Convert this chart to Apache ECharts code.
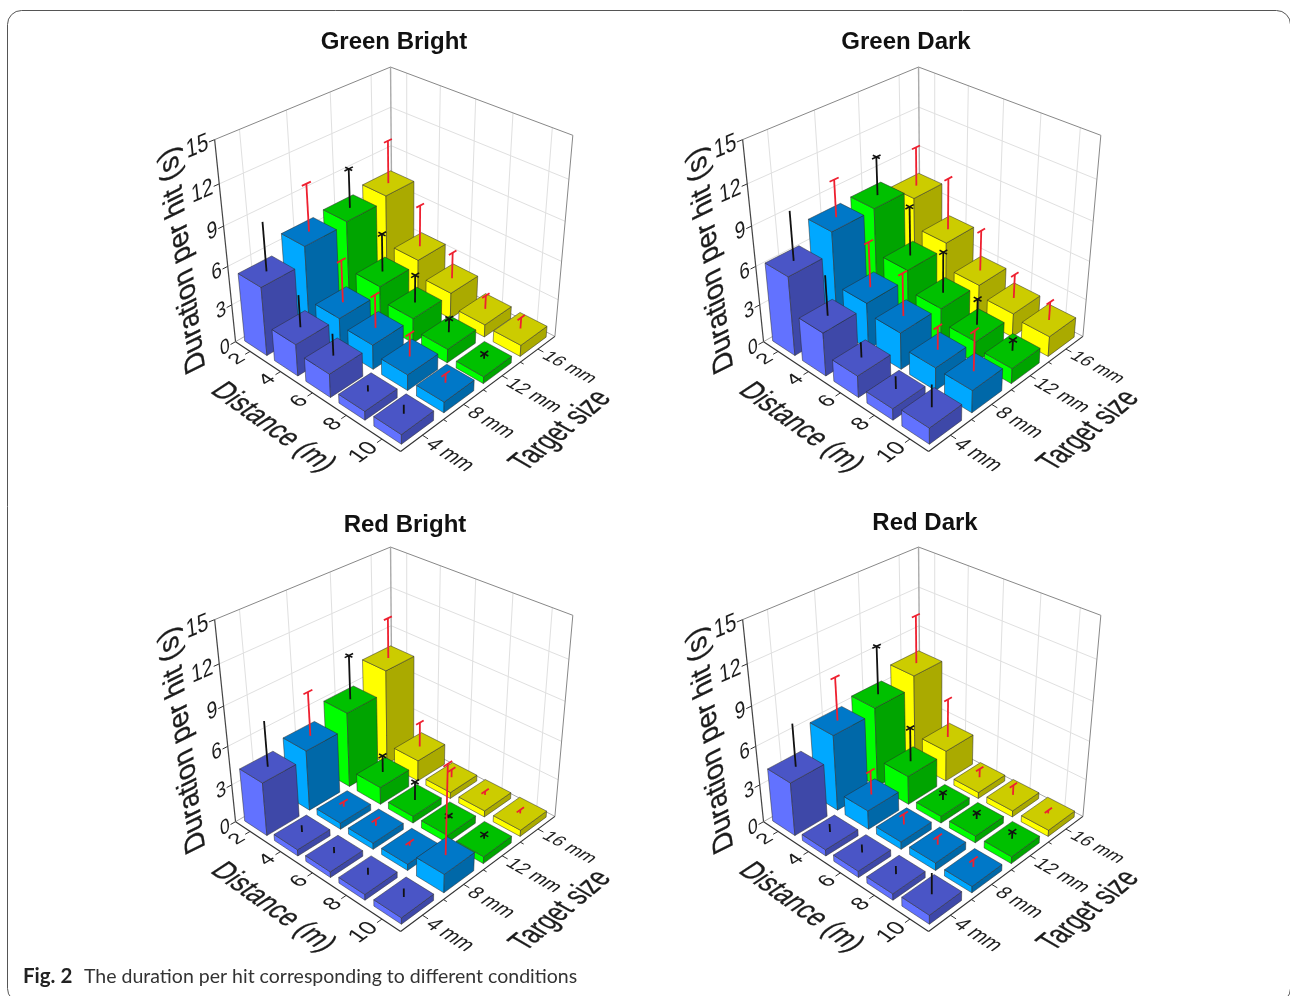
<!DOCTYPE html>
<html><head><meta charset="utf-8">
<style>html,body{margin:0;padding:0;background:#fff}#c{width:1290px;height:996px}</style>
<script src="https://cdn.jsdelivr.net/npm/echarts@6/dist/echarts.min.js"></script>
</head><body><div id="c"></div>
<script>
// ---- categories and ticks
const distances = ['2','4','6','8','10'];
const targetSizes = ['4 mm','8 mm','12 mm','16 mm'];
const durationTicks = [0,3,6,9,12,15];
const panelTitles = ['Green Bright','Green Dark','Red Bright','Red Dark'];
// ---- values: one row per target size (4, 8, 12, 16 mm), one column per distance (2..10 m)
const greenBrightMean = [[5.4,2.5,1.85,0.7,0.75],[6.7,2.5,1.95,1.25,0.85],[6.9,3.1,2.0,1.1,0.55],[7.3,3.4,2.1,1.0,0.9]];
const greenBrightErr  = [[3.7,2.5,1.7,0.5,0.7],[3.6,3.3,2.6,1.8,0.7],[3.0,3.0,2.2,1.1,0.4],[3.3,3.3,2.1,1.1,0.9]];
const greenDarkMean   = [[6.2,3.4,1.7,0.9,1.25],[7.8,3.7,2.9,1.8,1.75],[7.9,4.4,2.8,1.7,1.2],[7.1,4.8,2.75,1.9,1.6]];
const greenDarkErr    = [[3.7,3.1,1.2,1.0,1.75],[2.8,3.5,3.3,1.8,3.1],[2.9,3.8,3.2,2.05,0.85],[3.0,4.0,3.2,1.9,1.45]];
const redBrightMean   = [[4.2,0.5,0.45,0.45,0.5],[4.8,0.5,0.5,0.5,1.45],[6.0,1.4,0.55,0.6,0.55],[7.7,1.7,0.5,0.5,0.5]];
const redBrightErr    = [[3.5,0.55,0.5,0.55,0.65],[3.4,0.4,0.5,0.3,6.8],[3.4,1.35,1.5,0.2,0.35],[3.1,2.0,0.65,0.3,0.3]];
const redDarkMean     = [[4.2,0.5,0.5,0.5,0.7],[6.0,1.5,0.6,0.6,0.5],[6.4,2.3,0.55,0.55,0.55],[7.3,2.5,0.5,0.5,0.5]];
const redDarkErr      = [[3.3,0.65,0.65,0.65,1.65],[3.3,1.9,0.85,0.65,0.6],[3.7,2.7,0.6,0.5,0.55],[3.7,3.1,0.7,0.8,0.25]];
const panelMeans = [greenBrightMean, greenDarkMean, redBrightMean, redDarkMean];
const panelErrs  = [greenBrightErr, greenDarkErr, redBrightErr, redDarkErr];

// ---- styles and layout
const faceColors = [
  {left:'#6272FF', top:'#4A55C6', right:'#3E48A8'},
  {left:'#00A8FF', top:'#0078C8', right:'#0068A8'},
  {left:'#00FF00', top:'#00C000', right:'#00A400'},
  {left:'#FFFF00', top:'#CCCC00', right:'#AAAA00'}];
const errColors = ['#111','#EE2030','#111','#EE2030'];
const capKinds = ['none','tee','cross','tee'];
const panelOffsets = [[0,0],[528,0],[0,480],[528,480]];
const titlePos = [[389,25],[901,25],[400,508],[920,506]];
const BAR = 0.75;
const FONT = '"Liberation Sans", Arial, sans-serif';

// ---- camera: a perspective projection of the unit box (u distance, v target size, w duration)
const calib = [
 [1,0,0,401,451.7],[0,0,0,235.5,341.5],[1,1,0,555,336.5],[0,0,1,214.3,139.3],[1,1,1,574,135],[0,1,1,390.7,66],
 [0,0,.8,218.7,185],[0,0,.6,223.3,225.7],[0,0,.4,229.3,266.7],
 [1,1,.8,569,178.3],[1,1,.6,564,218.3],[1,1,.4,559.3,260],
 [0,1,.8,390.7,106.7],[0,1,.6,390.7,146.7],
 [0,.125,1,239.3,129],[0,.375,1,286.7,110],[0,.625,1,330,91.7],[0,.875,1,371.3,74.3],
 [.1,1,1,406.7,72.7],[.3,1,1,440.3,86],[.5,1,1,475.7,100],[.7,1,1,513.7,115],[.9,1,1,552.7,130],
 [.1,0,0,251.7,352.7],[.3,0,0,280,371.3],[.5,0,0,311.7,392.3],[.7,0,0,344,413.7],[.9,0,0,381,438.3],
 [1,.125,0,423.3,436],[1,.375,0,465,405],[1,.625,0,503.3,376.7],[1,.875,0,538.3,350]];
function fitCamera(pts){
  const n=11, A=[], b=[];
  pts.forEach(([u,v,w,px,py])=>{
    const X=(px-400)/100, Y=(py-250)/100;
    A.push([u,v,w,1,0,0,0,0,-X*u,-X*v,-X*w]); b.push(X);
    A.push([0,0,0,0,u,v,w,1,-Y*u,-Y*v,-Y*w]); b.push(Y);
  });
  const M=[]; for(let i=0;i<n;i++) M.push(new Array(n+1).fill(0));
  A.forEach((r,k)=>{for(let i=0;i<n;i++){for(let j=0;j<n;j++)M[i][j]+=r[i]*r[j];M[i][n]+=r[i]*b[k];}});
  for(let c=0;c<n;c++){let p=c;for(let r=c+1;r<n;r++)if(Math.abs(M[r][c])>Math.abs(M[p][c]))p=r;
    [M[c],M[p]]=[M[p],M[c]];
    for(let r=0;r<n;r++){if(r===c)continue;const f=M[r][c]/M[c][c];for(let j=c;j<=n;j++)M[r][j]-=f*M[c][j];}}
  return M.map((r,i)=>r[n]/r[i]);
}
const cam = fitCamera(calib);
function project(u,v,w,k){
  const d=cam[8]*u+cam[9]*v+cam[10]*w+1;
  return [ (cam[0]*u+cam[1]*v+cam[2]*w+cam[3])/d*100+400+panelOffsets[k][0],
           (cam[4]*u+cam[5]*v+cam[6]*w+cam[7])/d*100+250+panelOffsets[k][1] ];
}

// ---- a hidden grid per panel supplies the scales: x = distance category, y = duration
const gridBox = k=>({left:215+panelOffsets[k][0], top:66+panelOffsets[k][1], width:360, height:386});
function unit(api,k,cat,val){
  const g=gridBox(k), c=api.coord([cat,val]);
  return [(c[0]-g.left)/g.width, (g.top+g.height-c[1])/g.height];
}
function line(a,b,color,width){
  return {type:'line',shape:{x1:a[0],y1:a[1],x2:b[0],y2:b[1]},style:{stroke:color,lineWidth:width,fill:null},silent:true};
}
function poly(points,fill){
  return {type:'polygon',shape:{points},style:{fill,stroke:'#2a2a2a',lineWidth:0.5,lineJoin:'round'},silent:true};
}
function planeText(k,str,a,bd,ud,emB,emU,opt){
  const fs=20, p0=project(a[0],a[1],a[2],k);
  const pb=project(a[0]+bd[0]*emB,a[1]+bd[1]*emB,a[2]+bd[2]*emB,k);
  const pu=project(a[0]+ud[0]*emU,a[1]+ud[1]*emU,a[2]+ud[2]*emU,k);
  const bx=(pb[0]-p0[0])/fs, by=(pb[1]-p0[1])/fs, dx=-(pu[0]-p0[0])/fs, dy=-(pu[1]-p0[1])/fs;
  const rot=Math.atan2(-by,bx), c=Math.cos(rot), s=Math.sin(rot);
  const rx=c*dx-s*dy, ry=s*dx+c*dy;
  const style={text:str,fontSize:fs,fontFamily:FONT,fill:'#1c1c1c',align:opt.align||'center',verticalAlign:'middle'};
  if(opt.heavy){style.stroke='#1c1c1c';style.lineWidth=opt.heavy;}
  return {type:'text',x:p0[0],y:p0[1],rotation:rot,scaleX:Math.hypot(bx,by),scaleY:ry,skewX:Math.atan(rx/ry),silent:true,style};
}

function renderBar(k){ return function(params,api){
  const i=api.value(0), val=api.value(1), j=api.value(2), err=api.value(3);
  const [uc,w]=unit(api,k,i,val);
  const [,wTip]=unit(api,k,i,val+err);
  const vc=(j+.5)/targetSizes.length;
  const hu=BAR*.5/distances.length, hv=BAR*.5/targetSizes.length;
  const u0=uc-hu,u1=uc+hu,v0=vc-hv,v1=vc+hv, col=faceColors[j];
  const P=(a,b,c)=>project(a,b,c,k);
  const ch=[
    poly([P(u0,v0,0),P(u1,v0,0),P(u1,v0,w),P(u0,v0,w)],col.left),
    poly([P(u1,v0,0),P(u1,v1,0),P(u1,v1,w),P(u1,v0,w)],col.right),
    poly([P(u0,v0,w),P(u1,v0,w),P(u1,v1,w),P(u0,v1,w)],col.top)];
  const ec=errColors[j], lw=1.8;
  ch.push(line(P(uc,vc,w),P(uc,vc,wTip),ec,lw));
  const capV=.026, capU=.022;
  if(capKinds[j]==='tee'){
    ch.push(line(P(uc,vc-capV,wTip),P(uc,vc+capV,wTip),ec,lw));
  } else if(capKinds[j]==='cross'){
    ch.push(line(P(uc,vc-capV,wTip),P(uc,vc+capV,wTip),ec,1.6));
    ch.push(line(P(uc-capU,vc,wTip),P(uc+capU,vc,wTip),ec,1.6));
  }
  return {type:'group',children:ch};
};}

function renderFrame(k){ return function(params,api){
  const ch=[], P=(a,b,c)=>project(a,b,c,k), grid='#e0e0e0';
  const nd=distances.length, ns=targetSizes.length;
  durationTicks.forEach(t=>{
    const w=unit(api,k,0,t)[1];
    if(t>0&&t<15){ ch.push(line(P(0,0,w),P(0,1,w),grid,1)); ch.push(line(P(0,1,w),P(1,1,w),grid,1)); }
    ch.push(line(P(0,0,w),P(0,-.028,w),'#333',1));
    ch.push(planeText(k,String(t),[0,-.032,w],[0,1,0],[0,0,1],.098,.11,{align:'right'}));
  });
  targetSizes.forEach((s,j)=>{
    const v=(j+.5)/ns;
    ch.push(line(P(0,v,0),P(0,v,1),grid,1));
    ch.push(line(P(1,v,0),P(1.03,v,0),'#333',1));
    if(j>0) ch.push(line(P(1,j/ns,0),P(1.018,j/ns,0),'#333',1));
    ch.push(planeText(k,s,[1.045,v-.01,0],[1,0,0],[0,1,0],.085,.105,{align:'left'}));
  });
  distances.forEach((d,i)=>{
    const u=(i+.5)/nd;
    ch.push(line(P(u,1,0),P(u,1,1),grid,1));
    ch.push(line(P(u,0,0),P(u,-.028,0),'#333',1));
    ch.push(planeText(k,d,[u,-.045,0],[0,1,0],[-1,0,0],.105,.105,{align:'right'}));
  });
  ch.push(line(P(0,0,1),P(0,1,1),'#888',1));
  ch.push(line(P(0,1,1),P(1,1,1),'#888',1));
  ch.push(line(P(1,1,1),P(1,1,0),'#888',1));
  ch.push(line(P(0,1,1),P(0,1,0),'#aaa',1.4));
  ch.push(line(P(0,1,0),P(1,1,0),'#aaa',1));
  ch.push(line(P(0,1,0),P(0,0,0),'#aaa',1));
  ch.push(line(P(0,0,0),P(0,0,1),'#444',1.2));
  ch.push(line(P(0,0,0),P(1,0,0),'#333',1.2));
  ch.push(line(P(1,0,0),P(1,1,0),'#333',1.2));
  ch.push(planeText(k,'Distance (m)',[.54,-.25,0],[1,0,0],[0,1,0],.118,.14,{heavy:.2}));
  ch.push(planeText(k,'Target size',[1.38,.52,0],[0,1,0],[-1,0,0],.122,.14,{heavy:.2}));
  ch.push(planeText(k,'Duration per hit (s)',[0,-.215,.535],[0,0,1],[0,-1,0],.128,.135,{heavy:.2}));
  return {type:'group',children:ch};
};}

const grids=[],xAxes=[],yAxes=[],series=[],titles=[];
panelTitles.forEach((t,k)=>{
  grids.push(gridBox(k));
  xAxes.push({type:'category',data:distances,gridIndex:k,show:false});
  yAxes.push({type:'value',min:0,max:15,interval:3,gridIndex:k,show:false});
  titles.push({text:t,left:titlePos[k][0],top:titlePos[k][1],textAlign:'center',
    textStyle:{fontFamily:FONT,fontWeight:'bold',fontSize:24,color:'#111'}});
  series.push({type:'custom',xAxisIndex:k,yAxisIndex:k,silent:true,animation:false,clip:false,
    renderItem:renderFrame(k),data:[[0,0]],encode:{x:0,y:1}});
  const rows=[];
  for(let j=targetSizes.length-1;j>=0;j--)
    for(let i=0;i<distances.length;i++)
      rows.push([i,panelMeans[k][j][i],j,panelErrs[k][j][i]]);
  series.push({type:'custom',xAxisIndex:k,yAxisIndex:k,silent:true,animation:false,clip:false,
    renderItem:renderBar(k),data:rows,encode:{x:0,y:1}});
});

const chart=echarts.init(document.getElementById('c'),null,{renderer:'canvas'});
chart.setOption({
  animation:false,backgroundColor:'#fff',tooltip:{show:false},title:titles,
  grid:grids,xAxis:xAxes,yAxis:yAxes,series,
  graphic:[
    {type:'rect',silent:true,z:-1,shape:{x:7.5,y:10.5,width:1283,height:992,r:14},style:{fill:'none',stroke:'#555',lineWidth:1}},
    {type:'text',silent:true,x:23,y:966,style:{text:'Fig. 2',fontFamily:'Lato, "Open Sans", sans-serif',fontWeight:'bold',fontSize:20.5,fill:'#222'}},
    {type:'text',silent:true,x:84,y:967,style:{text:'The duration per hit corresponding to different conditions',fontFamily:'Lato, "Open Sans", sans-serif',fontSize:19.5,fill:'#333'}}
  ]
});
</script></body></html>
